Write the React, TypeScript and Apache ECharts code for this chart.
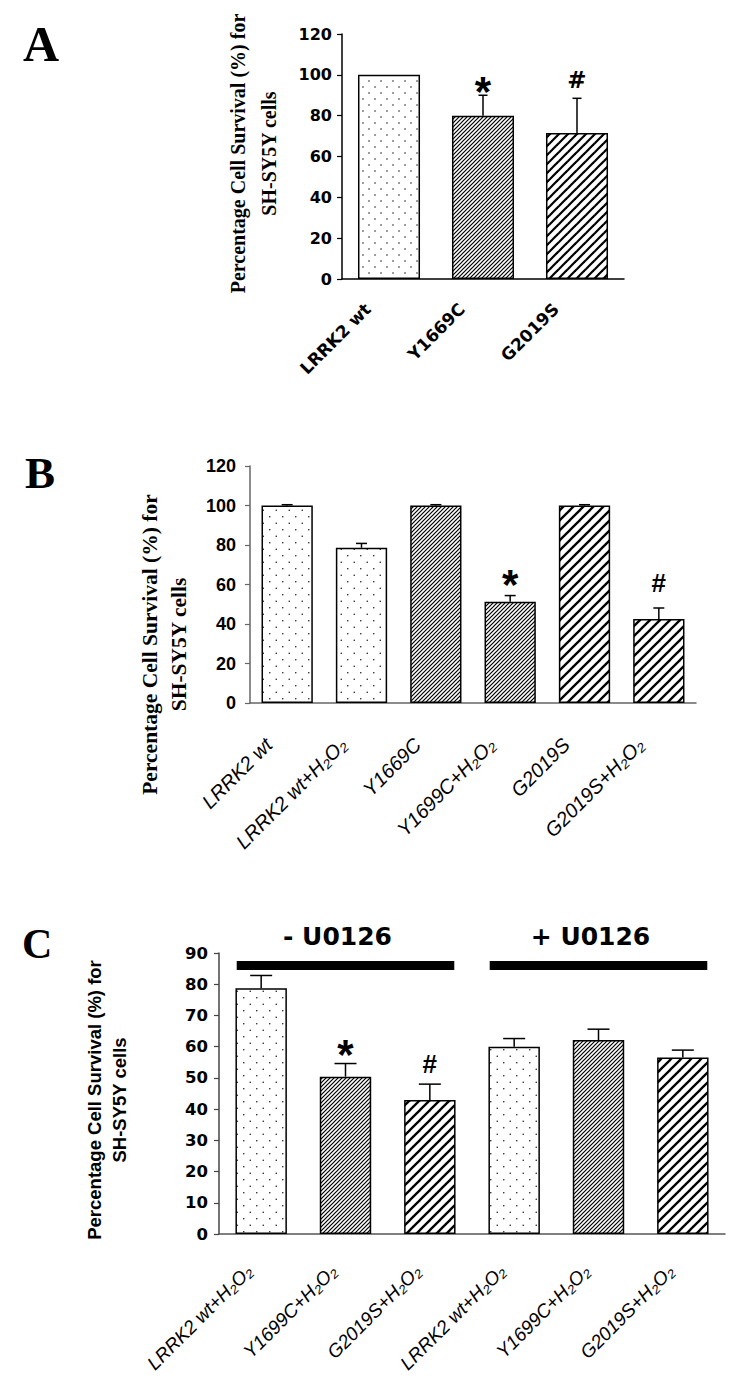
import React, { useEffect, useRef } from "react";
import * as echarts from "echarts";

// ---------- Panel A ----------
const categoriesA = ["LRRK2 wt", "Y1669C", "G2019S"];
const survivalA = [100, 80, 71.5];
const errorA = [0, 10, 17];
const marksA = ["", "*", "#"];
const fillsA = ["dots", "dense", "wide"];
const yTicksA = [0, 20, 40, 60, 80, 100, 120];

// ---------- Panel B ----------
const categoriesB = ["LRRK2 wt", "LRRK2 wt+H₂O₂", "Y1669C", "Y1699C+H₂O₂", "G2019S", "G2019S+H₂O₂"];
const survivalB = [100, 78.6, 100, 51.3, 100, 42.5];
const errorB = [0.4, 2.2, 0.4, 3.1, 0.4, 5.6];
const marksB = ["", "", "", "*", "", "#"];
const fillsB = ["dots", "dots", "dense", "dense", "wide", "wide"];
const yTicksB = [0, 20, 40, 60, 80, 100, 120];

// ---------- Panel C ----------
const categoriesC = ["LRRK2 wt+H₂O₂", "Y1699C+H₂O₂", "G2019S+H₂O₂", "LRRK2 wt+H₂O₂", "Y1699C+H₂O₂", "G2019S+H₂O₂"];
const survivalC = [78.7, 50.4, 42.9, 60.0, 62.1, 56.5];
const errorC = [4.1, 4.2, 5.1, 2.6, 3.5, 2.4];
const marksC = ["", "*", "#", "", "", ""];
const fillsC = ["dots", "dense", "wide", "dots", "dense", "wide"];
const yTicksC = [0, 10, 20, 30, 40, 50, 60, 70, 80, 90];
const groupNamesC = ["- U0126", "+ U0126"];
const groupStartC = [0, 3];
const groupEndC = [2, 5];
const groupLevelC = 86;

const yTitle = "Percentage Cell Survival (%) for\nSH-SY5Y cells";

function dotTile(size: number, dot: number) {
  const c = document.createElement("canvas");
  c.width = size;
  c.height = size;
  const g = c.getContext("2d")!;
  g.fillStyle = "#ffffff";
  g.fillRect(0, 0, size, size);
  g.fillStyle = "#222222";
  const q = size / 4;
  g.beginPath();
  g.arc(q, q, dot / 2, 0, Math.PI * 2);
  g.fill();
  g.beginPath();
  g.arc(3 * q, 3 * q, dot / 2, 0, Math.PI * 2);
  g.fill();
  return c;
}

function hatchTile(p: number, lw: number) {
  const c = document.createElement("canvas");
  c.width = p;
  c.height = p;
  const g = c.getContext("2d")!;
  g.fillStyle = "#ffffff";
  g.fillRect(0, 0, p, p);
  g.strokeStyle = "#000000";
  g.lineWidth = lw;
  for (const k of [-1, 0, 1]) {
    g.beginPath();
    g.moveTo(k * p - p, 2 * p);
    g.lineTo(k * p + 2 * p, -p);
    g.stroke();
  }
  return c;
}

function pat(c: HTMLCanvasElement) {
  return { image: c, repeat: "repeat", imageWidth: c.width, imageHeight: c.height } as any;
}

type PanelCfg = {
  idx: number;
  barWidth: string;
  cap: number;
  patterns: Record<string, any>;
  starFont: string;
  starOffset: number;
  hashFont: string;
  hashOffset: number;
};

function panelSeries(values: number[], errors: number[], marks: string[], fills: string[], cfg: PanelCfg) {
  return [
    {
      type: "bar",
      xAxisIndex: cfg.idx,
      yAxisIndex: cfg.idx,
      barWidth: cfg.barWidth,
      silent: true,
      z: 2,
      itemStyle: { borderColor: "#000", borderWidth: 1.5 },
      data: values.map((v, i) => ({ value: v, itemStyle: { color: cfg.patterns[fills[i]] } })),
    },
    {
      type: "custom",
      xAxisIndex: cfg.idx,
      yAxisIndex: cfg.idx,
      z: 5,
      silent: true,
      clip: false,
      data: values.map((v, i) => [i, v, errors[i]]),
      renderItem: (params: any, api: any) => {
        const i = params.dataIndex;
        const base = api.coord([api.value(0), api.value(1)]);
        const top = api.coord([api.value(0), api.value(1) + api.value(2)]);
        const children: any[] = [];
        if (api.value(2) > 0) {
          children.push({
            type: "line",
            shape: { x1: base[0], y1: base[1], x2: top[0], y2: top[1] },
            style: { stroke: "#000", lineWidth: 1.5 },
          });
          children.push({
            type: "line",
            shape: { x1: top[0] - cfg.cap / 2, y1: top[1], x2: top[0] + cfg.cap / 2, y2: top[1] },
            style: { stroke: "#000", lineWidth: 1.5 },
          });
        }
        const m = marks[i];
        if (m) {
          const star = m === "*";
          children.push({
            type: "text",
            x: top[0],
            y: top[1] - (star ? cfg.starOffset : cfg.hashOffset),
            style: {
              text: m,
              fill: "#000",
              font: star ? cfg.starFont : cfg.hashFont,
              align: "center",
              verticalAlign: "middle",
            },
          });
        }
        return { type: "group", children };
      },
    },
  ];
}

export default function App() {
  const ref = useRef<HTMLDivElement>(null);

  useEffect(() => {
    document.body.style.margin = "0";
    const el = ref.current!;
    const chart = echarts.init(el, null, { renderer: "svg" });

    const patA = { dots: pat(dotTile(12, 1.6)), dense: pat(hatchTile(4, 1.2)), wide: pat(hatchTile(9, 2.2)) };
    const patB = { dots: pat(dotTile(13, 1.6)), dense: pat(hatchTile(4, 1.2)), wide: pat(hatchTile(10, 2.3)) };
    const patC = { dots: pat(dotTile(13, 1.6)), dense: pat(hatchTile(4, 1.2)), wide: pat(hatchTile(10, 2.3)) };

    const yAxisBase = (ticks: number[], idx: number, label: any, name: any, lineColor: string) => ({
      type: "value",
      gridIndex: idx,
      min: ticks[0],
      max: ticks[ticks.length - 1],
      interval: ticks[1] - ticks[0],
      splitLine: { show: false },
      axisLine: { show: true, lineStyle: { color: lineColor, width: 1.5 } },
      axisTick: { show: true, inside: false, length: 5, lineStyle: { color: lineColor, width: 1.2 } },
      axisLabel: { color: "#000", ...label },
      name: yTitle,
      nameLocation: "middle",
      nameRotate: 90,
      ...name,
    });

    const xAxisBase = (cats: string[], idx: number, label: any, lineColor: string) => ({
      type: "category",
      gridIndex: idx,
      data: cats,
      axisTick: { show: false },
      axisLine: { show: true, lineStyle: { color: lineColor, width: 1.5 } },
      axisLabel: { color: "#000", rotate: 45, interval: 0, ...label },
    });

    const groupSeries = {
      type: "custom",
      xAxisIndex: 2,
      yAxisIndex: 2,
      z: 6,
      silent: true,
      clip: false,
      data: groupNamesC.map((_, i) => [groupStartC[i], groupEndC[i], groupLevelC]),
      renderItem: (params: any, api: any) => {
        const i = params.dataIndex;
        const band = api.size([1, 0])[0];
        const s = api.coord([api.value(0), api.value(2)]);
        const e = api.coord([api.value(1), api.value(2)]);
        const x0 = s[0] - band * 0.29;
        const x1 = e[0] + band * 0.29;
        return {
          type: "group",
          children: [
            { type: "rect", shape: { x: x0, y: s[1] - 4.5, width: x1 - x0, height: 9 }, style: { fill: "#000" } },
            {
              type: "text",
              x: (x0 + x1) / 2 - 8,
              y: s[1] - 29,
              style: {
                text: groupNamesC[i],
                fill: "#000",
                font: 'bold 25px "DejaVu Sans"',
                align: "center",
                verticalAlign: "middle",
              },
            },
          ],
        };
      },
    };

    const option: any = {
      animation: false,
      backgroundColor: "#ffffff",
      grid: [
        { left: 342, top: 34, width: 282, height: 245, containLabel: false, outerBoundsMode: "none" },
        { left: 250, top: 466, width: 446, height: 237, containLabel: false, outerBoundsMode: "none" },
        { left: 219, top: 953, width: 506, height: 281, containLabel: false, outerBoundsMode: "none" },
      ],
      xAxis: [
        xAxisBase(categoriesA, 0, {
          fontFamily: "DejaVu Sans", fontWeight: "bold", fontSize: 17, margin: 6, padding: [0, 30, 0, 0],
        }, "#000"),
        xAxisBase(categoriesB, 1, {
          fontFamily: "Liberation Sans", fontStyle: "italic", fontSize: 20, margin: 20, padding: [0, 26, 0, 0],
        }, "#666"),
        xAxisBase(categoriesC, 2, {
          fontFamily: "Liberation Sans", fontStyle: "italic", fontSize: 19, margin: 22, padding: [0, 17, 0, 0],
        }, "#555"),
      ],
      yAxis: [
        yAxisBase(yTicksA, 0,
          { fontFamily: "DejaVu Sans", fontWeight: "bold", fontSize: 16, margin: 10 },
          { nameGap: 58, nameTextStyle: { fontFamily: "Liberation Serif", fontWeight: "bold", fontSize: 20, lineHeight: 31, color: "#000", padding: [0, 0, 0, 6] } },
          "#000"),
        yAxisBase(yTicksB, 1,
          { fontFamily: "Liberation Sans", fontWeight: "bold", fontSize: 18, margin: 14 },
          { nameGap: 57, nameTextStyle: { fontFamily: "Liberation Serif", fontWeight: "bold", fontSize: 21.5, lineHeight: 29, color: "#000", padding: [0, 120, 0, 0] } },
          "#666"),
        yAxisBase(yTicksC, 2,
          { fontFamily: "DejaVu Sans", fontWeight: "bold", fontSize: 16.5, margin: 11 },
          { nameGap: 87, nameTextStyle: { fontFamily: "Liberation Sans", fontWeight: "bold", fontSize: 18.5, lineHeight: 25, color: "#000", padding: [0, 13, 0, 0] } },
          "#444"),
      ],
      series: [
        ...panelSeries(survivalA, errorA, marksA, fillsA, {
          idx: 0, barWidth: "66%", cap: 9, patterns: patA,
          starFont: 'bold 42px "Liberation Sans"', starOffset: 4,
          hashFont: 'bold 23px "DejaVu Sans"', hashOffset: 18,
        }),
        ...panelSeries(survivalB, errorB, marksB, fillsB, {
          idx: 1, barWidth: "69%", cap: 11, patterns: patB,
          starFont: 'bold 42px "Liberation Sans"', starOffset: 11,
          hashFont: 'bold 26px "Liberation Sans"', hashOffset: 25,
        }),
        ...panelSeries(survivalC, errorC, marksC, fillsC, {
          idx: 2, barWidth: "61%", cap: 22, patterns: patC,
          starFont: 'bold 42px "Liberation Sans"', starOffset: 9,
          hashFont: 'bold 26px "Liberation Sans"', hashOffset: 20,
        }),
        groupSeries,
      ],
      graphic: [
        { type: "text", x: 23, y: 44, style: { text: "A", font: 'bold 50px "Liberation Serif"', fill: "#000", align: "left", verticalAlign: "middle" } },
        { type: "text", x: 25, y: 473, style: { text: "B", font: 'bold 45px "Liberation Serif"', fill: "#000", align: "left", verticalAlign: "middle" } },
        { type: "text", x: 22, y: 944, style: { text: "C", font: 'bold 42px "Liberation Serif"', fill: "#000", align: "left", verticalAlign: "middle" } },
      ],
    };

    chart.setOption(option);
    return () => chart.dispose();
  }, []);

  return (
    <div
      ref={ref}
      style={{ position: "absolute", left: 0, top: 0, width: 750, height: 1386, background: "#fff" }}
    />
  );
}
